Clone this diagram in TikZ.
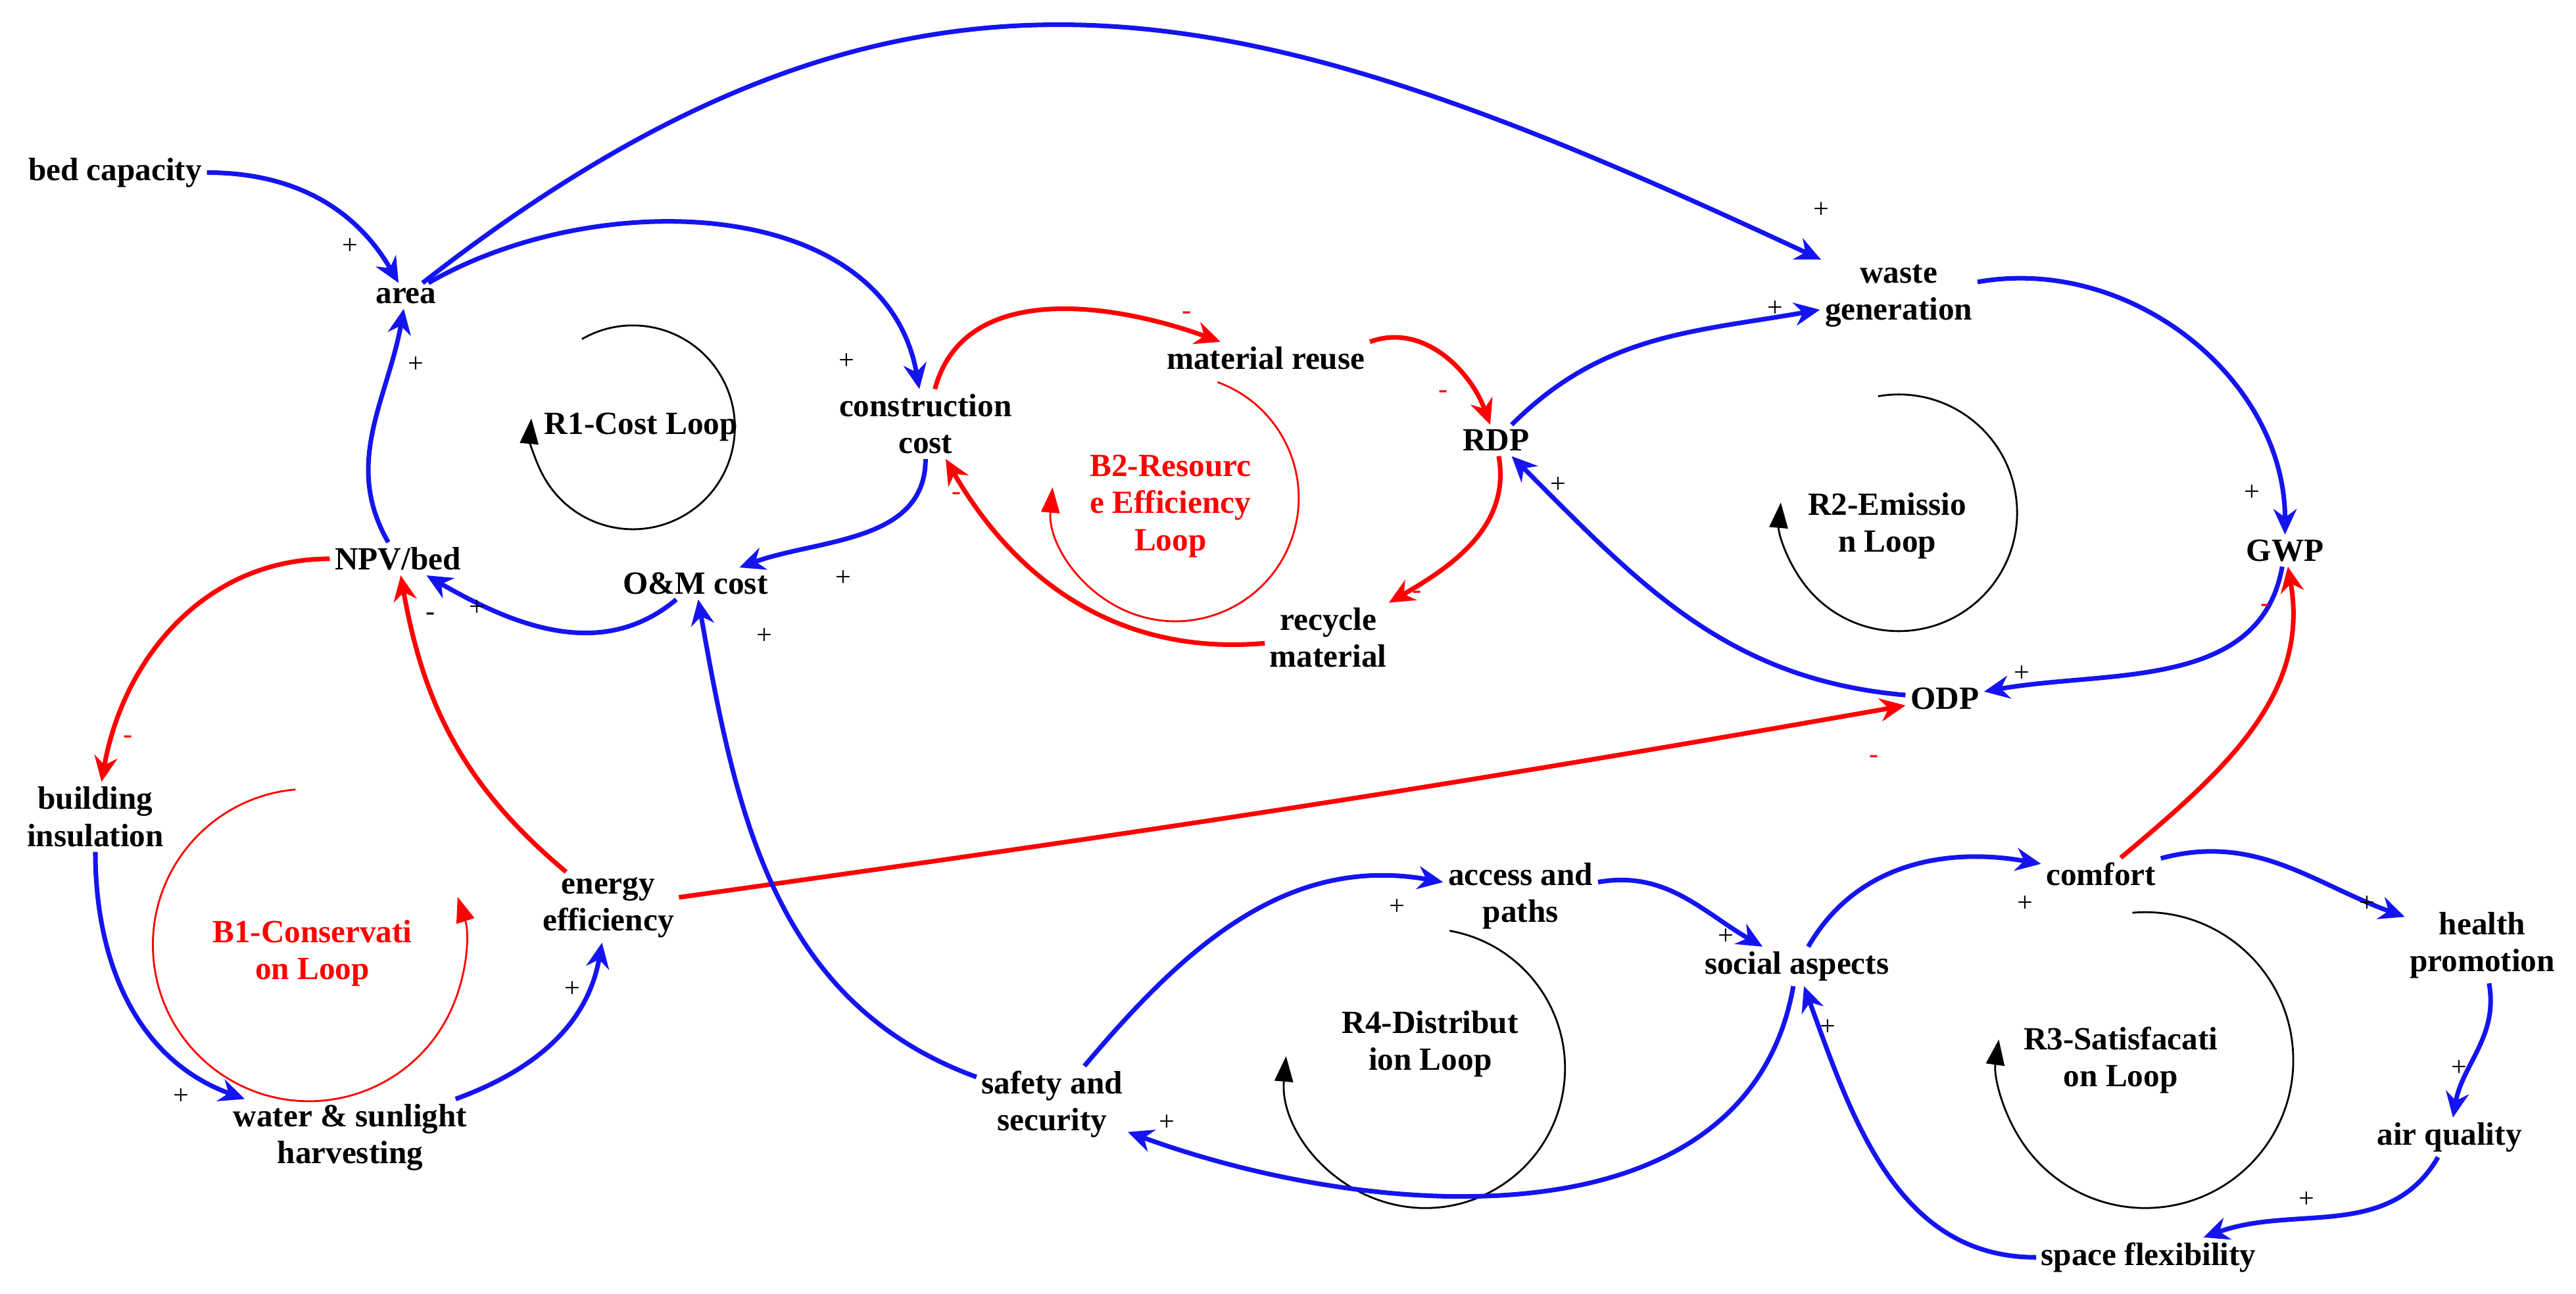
\documentclass[tikz,border=0pt]{standalone}
\usepackage{fontspec}
\setmainfont{Liberation Serif}
\usetikzlibrary{arrows.meta}
\begin{document}
\begin{tikzpicture}[x=0.025cm,y=-0.025cm,
  v/.style={font=\bfseries\fontsize{14}{16}\selectfont,align=center,inner sep=2pt},
  lp/.style={font=\bfseries\fontsize{14}{16}\selectfont,align=center},
  sg/.style={font=\fontsize{12}{12}\selectfont,inner sep=0pt},
  b/.style={draw={rgb,255:red,20;green,20;blue,240},line width=2pt,-{Stealth[length=11pt,width=10pt]}},
  r/.style={draw=red,line width=2pt,-{Stealth[length=11pt,width=10pt]}},
  loopc/.style={line width=0.8pt,-{Triangle[length=11pt,width=8pt]}}]
\useasboundingbox (0,0) rectangle (1567,787);
% nodes
\node[v] (bed) at (70,105) {bed capacity};
\node[v] (area) at (247,180) {area};
\node[v] (cc) at (563,258) {construction\\cost};
\node[v] (mr) at (770,218) {material reuse};
\node[v] (rdp) at (910,268) {RDP};
\node[v] (waste) at (1155,180) {waste\\generation};
\node[v] (gwp) at (1390,335) {GWP};
\node[v] (odp) at (1183,425) {ODP};
\node[v] (rm) at (808,388) {recycle\\material};
\node[v] (om) at (423,355) {O\&M cost};
\node[v] (npv) at (242,340) {NPV/bed};
\node[v] (bi) at (58,497) {building\\insulation};
\node[v] (ee) at (370,552) {energy\\efficiency};
\node[v] (ws) at (213,692) {water \& sunlight\\harvesting};
\node[v] (ap) at (925,545) {access and\\paths};
\node[v] (sa) at (1093,588) {social aspects};
\node[v] (comfort) at (1278,532) {comfort};
\node[v] (hp) at (1510,575) {health\\promotion};
\node[v] (aq) at (1490,692) {air quality};
\node[v] (sf) at (1307,765) {space flexibility};
\node[v] (ss) at (640,672) {safety and\\security};
% loops (angles negated because y axis points down)
\draw[loopc] (385,260) ++(-120:62) arc[start angle=-120,end angle=185,radius=62];
\node[lp] (l1) at (390,260) {R1-Cost Loop};
\draw[loopc,red] (715,303) ++(-70:75) arc[start angle=-70,end angle=185,radius=75];
\node[lp,text=red] (l2) at (712,308) {B2-Resourc\\e Efficiency\\Loop};
\draw[loopc] (1155,312) ++(-100:72) arc[start angle=-100,end angle=185,radius=72];
\node[lp] (l3) at (1148,320) {R2-Emissio\\n Loop};
\draw[loopc,red] (188,575) ++(-95:95) arc[start angle=-95,end angle=-378,radius=95];
\node[lp,text=red] (l4) at (190,580) {B1-Conservati\\on Loop};
\draw[loopc] (867,650) ++(-80:85) arc[start angle=-80,end angle=185,radius=85];
\node[lp] (l5) at (870,635) {R4-Distribut\\ion Loop};
\draw[loopc] (1305,645) ++(-95:90) arc[start angle=-95,end angle=188,radius=90];
\node[lp] (l6) at (1290,645) {R3-Satisfacati\\on Loop};
% connectors
\draw[b] (bed) to[out=0,in=120] (area);
\draw[b] (area) to[out=30,in=100] (cc);
\draw[b] (area) to[out=38,in=155,looseness=1.15] (waste);
\draw[b] (npv) to[out=120,in=-100] (area);
\draw[b] (cc) to[out=-90,in=20] (om);
\draw[b] (om) to[out=-140,in=-30] (npv);
\draw[r] (ee) to[out=140,in=-80] (npv);
\draw[r] (npv) to[out=180,in=80] (bi);
\draw[b] (bi) to[out=-90,in=160] (ws);
\draw[b] (ws) to[out=20,in=-100] (ee);
\draw[r] (ee) to[out=8,in=190] (odp);
\draw[b] (ss) to[out=160,in=-80] (om);
\draw[r] (cc) to[out=75,in=160] (mr);
\draw[r] (mr.north east) to[out=20,in=110] (rdp);
\draw[r] (rdp) to[out=-80,in=30] (rm);
\draw[r] (rm) to[out=185,in=-60] (cc);
\draw[b] (rdp) to[out=45,in=190] (waste);
\draw[b] (waste) to[out=10,in=90] (gwp);
\draw[b] (gwp) to[out=-100,in=10] (odp);
\draw[b] (odp) to[out=175,in=-45] (rdp);
\draw[r] (comfort) to[out=40,in=-80] (gwp);
\draw[b] (sa) to[out=60,in=170] (comfort);
\draw[b] (comfort) to[out=15,in=160] (hp);
\draw[b] (hp) to[out=-80,in=80] (aq);
\draw[b] (aq) to[out=-120,in=20] (sf);
\draw[b] (sf) to[out=180,in=-70] (sa);
\draw[b] (sa) to[out=-100,in=-20] (ss);
\draw[b] (ss) to[out=50,in=170] (ap);
\draw[b] (ap) to[out=10,in=150] (sa);
% signs
\node[sg] (s1) at (213,150) {+};
\node[sg] (s2) at (515,220) {+};
\node[sg] (s3) at (1108,128) {+};
\node[sg] (s4) at (253,222) {+};
\node[sg] (s5) at (513,352) {+};
\node[sg] (s6) at (290,370) {+};
\node[sg] (s7) at (262,375) {-};
\node[sg,text=red] (s8) at (78,450) {-};
\node[sg] (s9) at (110,667) {+};
\node[sg] (s10) at (348,602) {+};
\node[sg,text=red] (s11) at (1140,462) {-};
\node[sg] (s12) at (465,387) {+};
\node[sg,text=red] (s13) at (722,192) {-};
\node[sg,text=red] (s14) at (878,240) {-};
\node[sg,text=red] (s15) at (862,362) {-};
\node[sg,text=red] (s16) at (582,302) {-};
\node[sg] (s17) at (1080,188) {+};
\node[sg] (s18) at (1370,300) {+};
\node[sg] (s19) at (1230,410) {+};
\node[sg] (s20) at (948,295) {+};
\node[sg,text=red] (s21) at (1378,370) {-};
\node[sg] (s22) at (1232,550) {+};
\node[sg] (s23) at (1440,550) {+};
\node[sg] (s24) at (1496,650) {+};
\node[sg] (s25) at (1403,730) {+};
\node[sg] (s26) at (1112,625) {+};
\node[sg] (s27) at (710,683) {+};
\node[sg] (s28) at (850,552) {+};
\node[sg] (s29) at (1050,570) {+};
\end{tikzpicture}
\end{document}
